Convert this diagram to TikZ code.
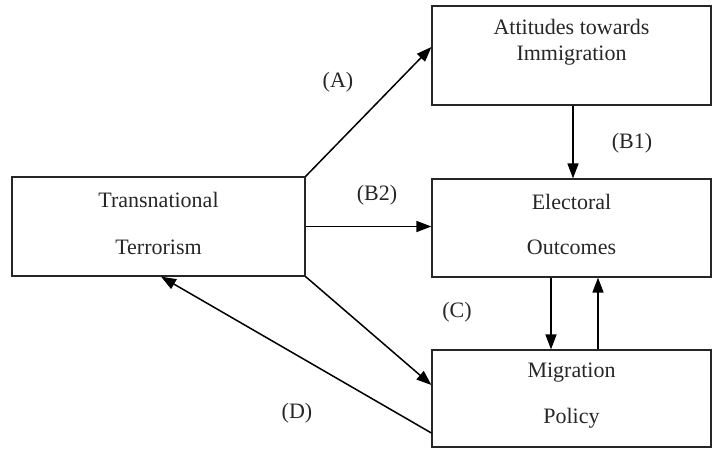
\documentclass[tikz,border=0pt]{standalone}
\usepackage{fontspec}
\setmainfont{Liberation Serif}
\usetikzlibrary{arrows.meta}

\begin{document}
\begin{tikzpicture}[x=1pt,y=1pt,yscale=-1,xscale=1,
  box/.style={draw=black!85, line width=1.2pt, inner sep=0pt},
  txt/.style={align=center, inner sep=0pt, font=\fontsize{22}{26}\selectfont, text=black!85},
  lbl/.style={inner sep=0pt, font=\fontsize{22}{26}\selectfont, text=black!85},
  arr/.style={line width=1.5pt, -{Triangle[length=15pt,width=11pt]}}]
\useasboundingbox (0,0) rectangle (713,448);

%Shape: Rectangle [ter]
\node[box, minimum width=293, minimum height=99] (ter) at (158.5,226.5) {};
%Shape: Rectangle [att]
\node[box, minimum width=279, minimum height=99] (att) at (571.5,55.5) {};
%Shape: Rectangle [el]
\node[box, minimum width=279, minimum height=98] (el) at (571.5,228) {};
%Shape: Rectangle [mig]
\node[box, minimum width=279, minimum height=97] (mig) at (571.5,398.5) {};

% Text Node
\node[txt] (tertext) at (158.5,223.5) {Transnational\\[21pt]Terrorism};
% Text Node
\node[txt] (atttext) at (571.5,42.5) {Attitudes towards\\Immigration};
% Text Node
\node[txt] (eltext) at (571.5,224.5) {Electoral\\[19pt]Outcomes};
% Text Node
\node[txt] (migtext) at (571.5,396) {Migration\\[20pt]Policy};

%Straight Lines with arrows
\draw[arr] (ter.north east) -- ([yshift=-8.5pt]att.west);
\draw[arr] (ter.east) -- (ter.east -| el.west);
\draw[arr] ([xshift=1.5pt]att.south) -- ([xshift=1.5pt]el.north);
\draw[arr] ([xshift=-20.5pt]el.south) -- ([xshift=-20.5pt]mig.north);
\draw[arr] ([xshift=26.5pt]mig.north) -- ([xshift=26.5pt]el.south);
\draw[arr] (ter.south east) -- ([yshift=-13.5pt]mig.west);
\draw[arr] ([yshift=34.5pt]mig.west) -- ([xshift=2.5pt]ter.south);

% Text Node
\node[lbl] (la) at (338,82) {(A)};
% Text Node
\node[lbl] (lb2) at (377,195) {(B2)};
% Text Node
\node[lbl] (lb1) at (632,143) {(B1)};
% Text Node
\node[lbl] (lc) at (457,312) {(C)};
% Text Node
\node[lbl] (ld) at (297,413) {(D)};

\end{tikzpicture}
\end{document}
